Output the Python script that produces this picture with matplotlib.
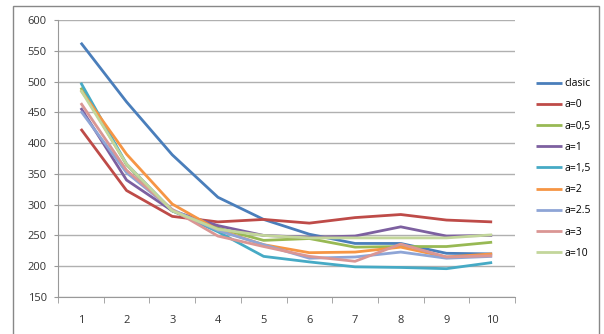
import numpy as np
import matplotlib.pyplot as plt
from matplotlib.patches import Rectangle

x = np.arange(1, 11)
labels = ["clasic", "a=0", "a=0,5", "a=1", "a=1,5", "a=2", "a=2.5", "a=3", "a=10"]

clasic = [563, 467, 381, 312, 276, 252, 237, 237, 221, 220]
a_0 = [423, 323, 281, 272, 276, 270, 279, 284, 275, 272]
a_05 = [490, 365, 290, 262, 242, 245, 231, 232, 232, 239]
a_1 = [457, 340, 290, 266, 250, 247, 249, 264, 249, 250]
a_15 = [498, 366, 290, 256, 216, 207, 199, 198, 196, 206]
a_2 = [486, 382, 301, 259, 235, 222, 223, 231, 215, 220]
a_25 = [452, 352, 292, 258, 235, 213, 215, 223, 213, 216]
a_3 = [465, 356, 292, 249, 232, 216, 208, 236, 215, 217]
a_10 = [486, 366, 290, 260, 250, 246, 246, 246, 246, 251]
series = [clasic, a_0, a_05, a_1, a_15, a_2, a_25, a_3, a_10]

colors = ["#4A7EBB", "#BE4B48", "#98B954", "#7D60A0", "#46AAC5",
          "#F69544", "#8EA5D6", "#DA9694", "#C3D69B"]

plt.rcParams['font.family'] = ['Open Sans', 'DejaVu Sans']

fig = plt.figure(figsize=(6.04, 3.34), dpi=100)
ax = fig.add_axes([58/604, 1 - 297/334, 457/604, 277/334])

for vals, lab, c in zip(series, labels, colors):
    ax.plot(x, vals, color=c, lw=2.0, label=lab, solid_capstyle='butt')

ax.set_xlim(0.5, 10.5)
ax.set_ylim(150, 600)
ax.set_yticks(np.arange(150, 601, 50))
ax.set_xticks(x)
ax.set_xticks(np.arange(0.5, 11, 1), minor=True)
ax.tick_params(axis='x', which='major', length=0, pad=13, labelsize=8, labelcolor='#333333')
ax.tick_params(axis='x', which='minor', length=4, color='#999999', direction='out')
ax.tick_params(axis='y', length=3, color='#999999', labelsize=8, labelcolor='#333333', pad=5)
ax.grid(axis='y', color='#B0B0B0', lw=1)
ax.set_axisbelow(True)
for s in ['top', 'right']:
    ax.spines[s].set_visible(False)
for s in ['left', 'bottom']:
    ax.spines[s].set_color('#999999')

ax.legend(loc='upper left', bbox_to_anchor=(531/604, 1 - 73/334), bbox_transform=fig.transFigure,
          frameon=False, fontsize=7.5, handlelength=2.5, handletextpad=0.2,
          labelspacing=0.98, borderpad=0)

fig.patches.append(Rectangle((13/604, -0.05), 586/604, 1.05 - 6/334, transform=fig.transFigure,
                             fill=False, edgecolor='#888888', lw=1))

fig.savefig("out.png", dpi=100)
